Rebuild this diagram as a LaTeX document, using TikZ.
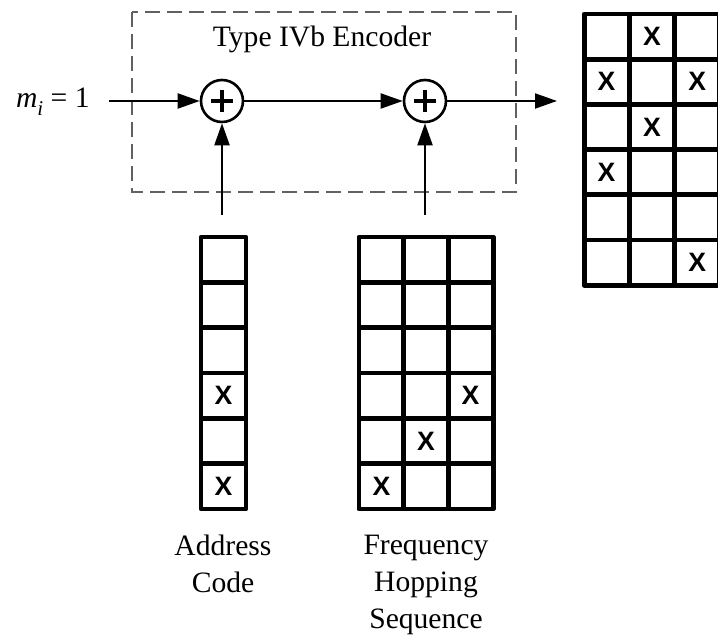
\documentclass[tikz,border=0pt]{standalone}
\usepackage{fontspec}
\setmainfont{Liberation Serif}
\newfontfamily\markfont{Liberation Sans}
\usetikzlibrary{arrows.meta}
\begin{document}
\begin{tikzpicture}[x=0.5pt,y=-0.5pt,
  arr/.style={line width=1pt,-{Triangle[length=11pt,width=7.5pt]}},
  sum/.style={circle,draw,line width=1.3pt,minimum size=21pt,inner sep=0pt,
    path picture={\draw[line width=1.7pt]
      ([xshift=-5.4pt]path picture bounding box.center) -- ([xshift=5.4pt]path picture bounding box.center)
      ([yshift=-5.4pt]path picture bounding box.center) -- ([yshift=5.4pt]path picture bounding box.center);}},
  cell/.style={draw,line width=2.4pt,minimum width=22.5pt,minimum height=22.65pt,inner sep=0pt,line join=round},
  xmark/.style={font=\markfont\bfseries\fontsize{13.3}{15}\selectfont,inner sep=0pt},
  encbox/.style={draw=black!62,line width=1.3pt,dash pattern=on 7.5pt off 3.5pt},
  lbl/.style={font=\fontsize{14.8}{18.5}\selectfont,align=center,inner sep=0pt}]

\useasboundingbox (0,0) rectangle (718,635);
\fill[white] (0,0) rectangle (718,635);

% encoder frame
\draw[encbox] (132,12) rectangle (516,192);
\node[lbl,anchor=base] (title) at (322,47) {Type IVb Encoder};

% modulo adders
\node[sum] (add1) at (222,101) {};
\node[sum] (add2) at (425,101) {};

% input / output
\node[lbl,anchor=base east] (min) at (90,108)
  {\textit{m}\raisebox{-4pt}{\fontsize{10.5}{10}\selectfont\textit{i}} = 1};
\coordinate (in) at (109,101);
\coordinate (out) at (557,101);
\coordinate (acup) at (222,215);
\coordinate (fhup) at (425,215);

\draw[arr] (in) -- (add1);
\draw[arr] (add1) -- (add2);
\draw[arr] (add2) -- (out);
\draw[arr] (acup) -- (add1);
\draw[arr] (fhup) -- (add2);

% address code column
\foreach \r in {0,...,5}
  \node[cell] (ac-\r) at (223.5,259.7+45.33*\r) {};
\node[xmark] (acx3) at (ac-3) {X};
\node[xmark] (acx5) at (ac-5) {X};

% frequency hopping sequence
\foreach \c in {0,1,2}
  \foreach \r in {0,...,5}
    \node[cell] (fh-\c-\r) at (381.4+44.6*\c,259.7+45.33*\r) {};
\node[xmark] (fhx1) at (fh-2-3) {X};
\node[xmark] (fhx2) at (fh-1-4) {X};
\node[xmark] (fhx3) at (fh-0-5) {X};

% encoded output
\foreach \c in {0,1,2}
  \foreach \r in {0,...,5}
    \node[cell] (op-\c-\r) at (606.6+45.3*\c,36.6+45.2*\r) {};
\node[xmark] (opx1) at (op-1-0) {X};
\node[xmark] (opx2) at (op-0-1) {X};
\node[xmark] (opx3) at (op-2-1) {X};
\node[xmark] (opx4) at (op-1-2) {X};
\node[xmark] (opx5) at (op-0-3) {X};
\node[xmark] (opx6) at (op-2-5) {X};

% captions
\node[lbl,anchor=north] (aclbl) at (223,535) {Address\\Code};
\node[lbl,anchor=north] (fhlbl) at (426,535) {Frequency\\Hopping\\Sequence};
\end{tikzpicture}
\end{document}
